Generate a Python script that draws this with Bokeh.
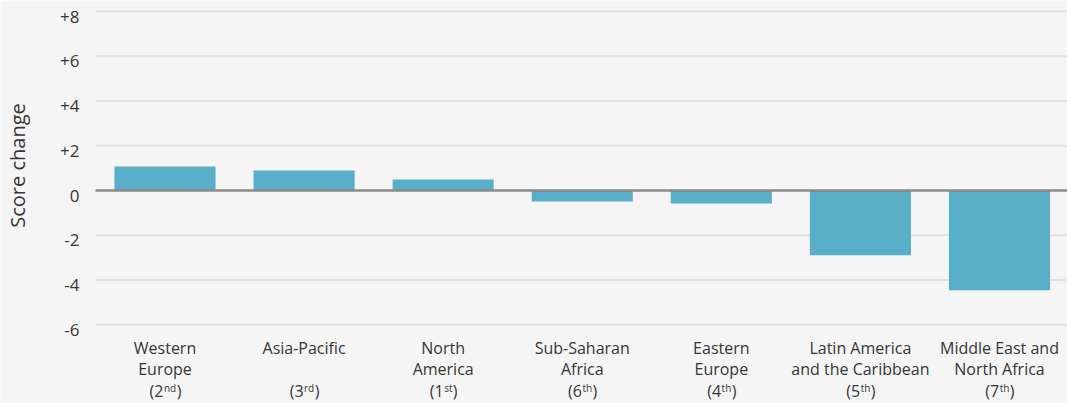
from bokeh.plotting import figure
from bokeh.models import Range1d, ColumnDataSource
from bokeh.embed import file_html
from bokeh.resources import INLINE
from bokeh.core.properties import value
import math

# ---------------- data ----------------
regions = ["Western Europe", "Asia-Pacific", "North America", "Sub-Saharan Africa",
           "Eastern Europe", "Latin America and the Caribbean", "Middle East and North Africa"]
label_line1 = ["Western", "Asia-Pacific", "North", "Sub-Saharan", "Eastern", "Latin America", "Middle East and"]
label_line2 = ["Europe", "", "America", "Africa", "Europe", "and the Caribbean", "North Africa"]
ranks = ["2", "3", "1", "6", "4", "5", "7"]
rank_suffixes = ["nd", "rd", "st", "th", "th", "th", "th"]
score_changes = [1.07, 0.89, 0.49, -0.49, -0.58, -2.90, -4.46]
y_ticks = [-6, -4, -2, 0, 2, 4, 6, 8]
y_tick_labels = ["-6", "-4", "-2", "0", "+2", "+4", "+6", "+8"]
y_title = "Score change"

# ---------------- layout ----------------
W, H = 1067, 403
px_per_cat = 139.08
px_per_unit = 22.36
zero_fy = 190.0
first_fx = 164.5
x_lo = -first_fx / px_per_cat
x_hi = (W - first_fx) / px_per_cat
y_hi = zero_fy / px_per_unit
y_lo = -(H - zero_fy) / px_per_unit

FONT = value("Open Sans")
TXT = "#363636"
BG = "#f5f5f5"

p = figure(width=W, height=H, x_range=Range1d(x_lo, x_hi), y_range=Range1d(y_lo, y_hi),
           output_backend="svg", toolbar_location=None, min_border=0,
           x_axis_location=None, y_axis_location=None,
           background_fill_color=BG, border_fill_color=BG, outline_line_color=None)
p.grid.visible = False

idx = list(range(len(regions)))

# grid lines (non-zero)
grid_src = ColumnDataSource(dict(y=[t for t in y_ticks if t != 0]))
p.segment(x0=-0.5, x1=x_hi, y0="y", y1="y", source=grid_src, line_color="#e1e1e1", line_width=2)

# bars
bar_src = ColumnDataSource(dict(x=idx, top=score_changes, region=regions))
p.vbar(x="x", top="top", bottom=0, width=0.727, source=bar_src, fill_color="#59afc7", line_color=None)

# zero line
p.segment(x0=-0.5, x1=x_hi, y0=0, y1=0, line_color="#8a8a8a", line_width=2.5)

# y tick labels
tick_src = ColumnDataSource(dict(y=y_ticks, t=y_tick_labels))
p.text(x=-0.5, y="y", text="t", source=tick_src, x_offset=-16, y_offset=5,
       text_align="right", text_baseline="middle", text_font=FONT,
       text_font_size="17px", text_color=TXT)

# y axis title
p.text(x=[x_lo], y=[(zero_fy - 165) / px_per_unit], text=[y_title], x_offset=17,
       angle=math.pi / 2, text_align="center", text_baseline="middle",
       text_font=FONT, text_font_size="20px", text_color=TXT)

# category labels
cat_src = ColumnDataSource(dict(x=idx, l1=label_line1, l2=label_line2))
p.text(x="x", y=y_lo, text="l1", source=cat_src, y_offset=-56, text_align="center",
       text_baseline="alphabetic", text_font=FONT, text_font_size="16px", text_color=TXT)
p.text(x="x", y=y_lo, text="l2", source=cat_src, y_offset=-35, text_align="center",
       text_baseline="alphabetic", text_font=FONT, text_font_size="16px", text_color=TXT)

# rank line "(2nd)" with superscript suffix
sup_w = {"n": 6.1, "d": 6.1, "r": 4.1, "s": 4.6, "t": 3.5, "h": 6.1}
main_w, paren_w = 13.9, 4.8
main_off, sup_off, close_off = [], [], []
for s in rank_suffixes:
    ws = sum(sup_w[c] for c in s)
    start = -(main_w + ws + paren_w) / 2
    main_off.append(start + main_w)
    sup_off.append(start + main_w + 0.5)
    close_off.append(start + main_w + ws + 1)
rank_src = ColumnDataSource(dict(x=idx, main=["(" + r for r in ranks], sup=rank_suffixes,
                                 close=[")"] * len(ranks), mo=main_off, so=sup_off, co=close_off))
p.text(x="x", y=y_lo, text="main", source=rank_src, x_offset="mo", y_offset=-13,
       text_align="right", text_baseline="alphabetic", text_font=FONT,
       text_font_size="16px", text_color=TXT)
p.text(x="x", y=y_lo, text="sup", source=rank_src, x_offset="so", y_offset=-16,
       text_align="left", text_baseline="alphabetic", text_font=FONT,
       text_font_size="10px", text_color=TXT)
p.text(x="x", y=y_lo, text="close", source=rank_src, x_offset="co", y_offset=-13,
       text_align="left", text_baseline="alphabetic", text_font=FONT,
       text_font_size="16px", text_color=TXT)

open("out.html", "w").write(file_html(p, INLINE))
